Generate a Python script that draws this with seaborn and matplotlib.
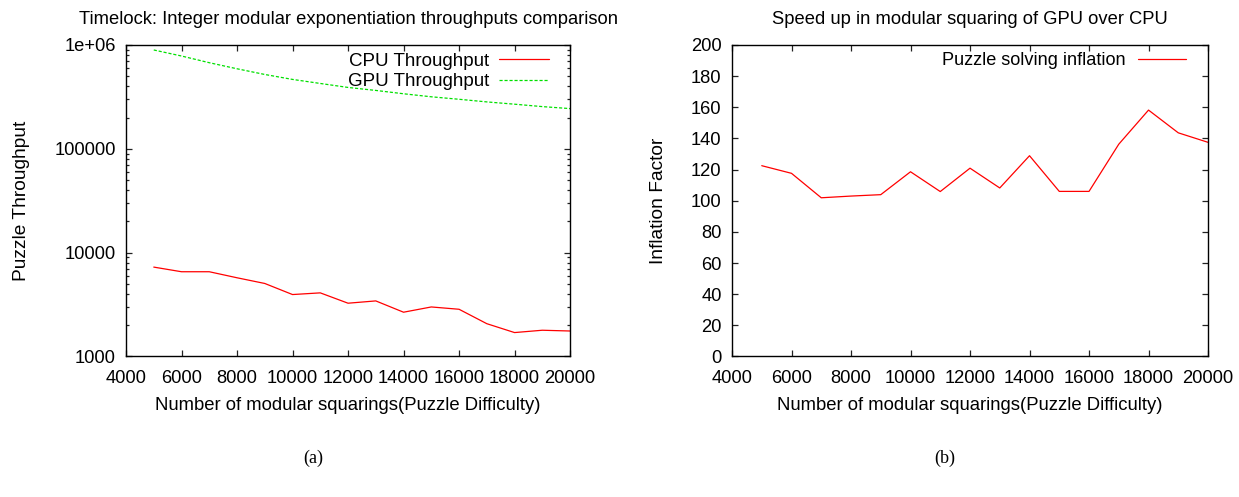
import numpy as np
import pandas as pd
import matplotlib
matplotlib.use("Agg")
import matplotlib.pyplot as plt
import seaborn as sns
from matplotlib.ticker import FixedLocator, LogLocator, NullFormatter

difficulty = [5000, 6000, 7000, 8000, 9000, 10000, 11000, 12000, 13000,
              14000, 15000, 16000, 17000, 18000, 19000, 20000]
cpu_throughput = [7260, 6550, 6550, 5730, 5050, 3950, 4100, 3260, 3430,
                  2670, 3000, 2850, 2070, 1700, 1790, 1760]
gpu_throughput = [895000, 783000, 675000, 590000, 520000, 466000, 426000,
                  390000, 365000, 339000, 317000, 300000, 283000, 269000,
                  255000, 244000]
inflation = [122.5, 117.6, 101.9, 103.0, 103.9, 118.6, 105.9, 120.9, 108.2,
             128.9, 106.0, 106.0, 136.3, 158.2, 143.6, 137.5]

x_ticks = [4000, 6000, 8000, 10000, 12000, 14000, 16000, 18000, 20000]
left_y_ticks = [1000, 10000, 100000, 1000000]
left_y_labels = ["1000", "10000", "100000", "1e+06"]
right_y_ticks = [0, 20, 40, 60, 80, 100, 120, 140, 160, 180, 200]

df_left = pd.DataFrame({
    "x": difficulty * 2,
    "y": cpu_throughput + gpu_throughput,
    "series": ["CPU Throughput"] * len(difficulty) + ["GPU Throughput"] * len(difficulty),
})
df_right = pd.DataFrame({"x": difficulty, "y": inflation,
                         "series": ["Puzzle solving inflation"] * len(difficulty)})

sns.set_style("ticks")
plt.rcParams["font.family"] = ["Liberation Sans", "DejaVu Sans"]
plt.rcParams["axes.linewidth"] = 1.0
for k in ("text.color", "axes.labelcolor", "xtick.color", "ytick.color", "axes.edgecolor"):
    plt.rcParams[k] = "black"

fig = plt.figure(figsize=(12.39, 4.97), dpi=100)
ax1 = fig.add_axes([0.1017, 0.2827, 0.3584, 0.6268])
ax2 = fig.add_axes([0.5908, 0.2827, 0.3842, 0.6268])

sns.lineplot(data=df_left, x="x", y="y", hue="series", style="series",
             palette={"CPU Throughput": "#ff0000", "GPU Throughput": "#00e000"},
             dashes={"CPU Throughput": "", "GPU Throughput": (2.5, 1.5)},
             linewidth=0.9, ax=ax1)
sns.lineplot(data=df_right, x="x", y="y", hue="series",
             palette={"Puzzle solving inflation": "#ff0000"},
             linewidth=0.9, ax=ax2)

tick_fs = 13.2
lab_fs = 13.3
for ax in (ax1, ax2):
    ax.set_xlim(4000, 20000)
    ax.xaxis.set_major_locator(FixedLocator(x_ticks))
    ax.set_xticklabels([str(t) for t in x_ticks])
    ax.tick_params(which="both", direction="in", top=True, right=True,
                   labelsize=tick_fs, color="#222222", width=0.9)
    ax.tick_params(which="major", length=4.5)
    ax.tick_params(axis="x", which="major", pad=9.5)
    ax.tick_params(axis="y", which="major", pad=7.5)
    ax.tick_params(which="minor", length=2.5)
    ax.set_xlabel("Number of modular squarings(Puzzle Difficulty)", fontsize=lab_fs, labelpad=7.5)
    for s in ax.spines.values():
        s.set_color("black")
        s.set_visible(True)

ax1.set_yscale("log")
ax1.set_ylim(1000, 1000000)
ax1.yaxis.set_major_locator(FixedLocator(left_y_ticks))
ax1.set_yticklabels(left_y_labels)
ax1.yaxis.set_minor_locator(LogLocator(base=10, subs=np.arange(2, 10)))
ax1.yaxis.set_minor_formatter(NullFormatter())
ax1.xaxis.set_minor_locator(FixedLocator([]))
ax1.set_ylabel("Puzzle Throughput", fontsize=13.8, labelpad=17.5)
ax1.set_title("Timelock: Integer modular exponentiation throughputs comparison",
              fontsize=13.2, pad=15)

ax2.set_ylim(0, 200)
ax2.yaxis.set_major_locator(FixedLocator(right_y_ticks))
ax2.set_yticklabels([str(t) for t in right_y_ticks])
ax2.set_ylabel("Inflation Factor", fontsize=13.8, labelpad=17.5)
ax2.set_title("Speed up in modular squaring of GPU over CPU", fontsize=13.2, pad=15)

h, l = ax1.get_legend_handles_labels()
ax1.legend(h, l, loc="upper right", frameon=False, markerfirst=False,
           fontsize=13.5, handlelength=2.7, handletextpad=0.5,
           labelspacing=0.18, borderaxespad=0, bbox_to_anchor=(0.97, 1.0))
h, l = ax2.get_legend_handles_labels()
ax2.legend(h, l, loc="upper right", frameon=False, markerfirst=False,
           fontsize=13.1, handlelength=2.6, handletextpad=0.7,
           labelspacing=0.18, borderaxespad=0, bbox_to_anchor=(0.968, 1.0))

fig.text(0.2526, 0.078, "(a)", fontsize=13, ha="center", va="center",
         family=["Liberation Serif", "DejaVu Serif"])
fig.text(0.7627, 0.078, "(b)", fontsize=13, ha="center", va="center",
         family=["Liberation Serif", "DejaVu Serif"])

fig.savefig("out.png", dpi=100)
